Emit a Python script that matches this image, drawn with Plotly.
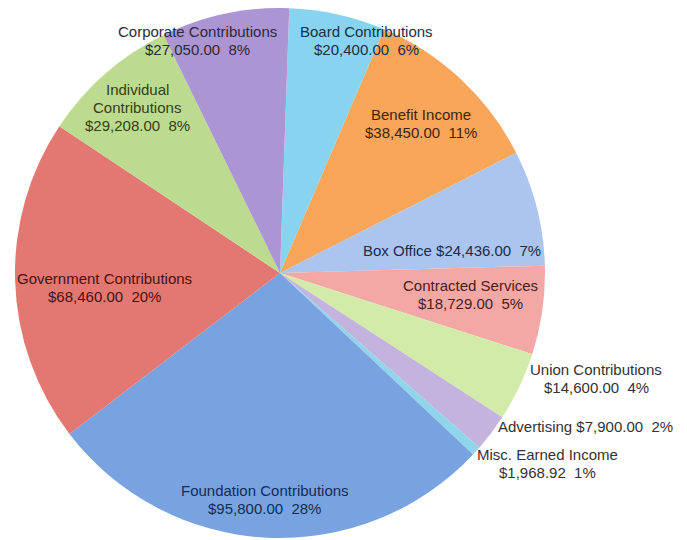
import math
import plotly.graph_objects as go

# ---- data ----
categories = ["Board Contributions", "Benefit Income", "Box Office", "Contracted Services",
              "Union Contributions", "Advertising", "Misc. Earned Income",
              "Foundation Contributions", "Government Contributions",
              "Individual Contributions", "Corporate Contributions"]
values = [20400.00, 38450.00, 24436.00, 18729.00, 14600.00, 7900.00, 1968.92,
          95800.00, 68460.00, 29208.00, 27050.00]

# ---- styles ----
slice_colors = ["#88d3f0", "#f9a65a", "#abc5ee", "#f4a8a6", "#d3eba8", "#c3b3de",
                "#8fd6ea", "#78a3e0", "#e27871", "#bcdb8e", "#ab95d2"]
text_colors = ["#1b2f45", "#3f2410", "#1b2b4c", "#4a1c1c", "#333333", "#333333",
               "#333333", "#132c55", "#4a1212", "#33401c", "#2c2a3c"]
# 0: single line, 1: name / value, 2: each name word on its own line
wrap_mode = [1, 1, 0, 1, 1, 0, 1, 1, 1, 2, 1]
label_radius = [0.93, 0.77, 0.65, 0.72, 1.25, 1.28, 1.23, 0.85, 0.66, 0.82, 0.925]
label_dangle = [7.7, 0.3, 6.7, -1.6, -6.9, -10.4, -6.7, 0.9, -2.7, 0.5, -7.6]

W, H = 687, 540
OFF = 8          # page body margin in the browser
FW, FH = W - OFF, H - OFF
rotation = 2
# pie box in page pixels: x 13..547, y 4..538
dom_x = [(13 - OFF) / FW, (547 - OFF) / FW]
dom_y = [1 - (538 - OFF) / FH, 1 - max(4 - OFF, 0) / FH]
FONT = "Liberation Sans, Arial, sans-serif"
FS = 15
LINE = 18

fig = go.Figure(go.Pie(
    labels=categories, values=values, sort=False, direction="clockwise",
    rotation=rotation, textinfo="none", hoverinfo="label+value+percent",
    marker=dict(colors=slice_colors, line=dict(width=0)),
    domain=dict(x=dom_x, y=dom_y), showlegend=False,
))

# geometry of pie in figure pixels
cx = (dom_x[0] + dom_x[1]) / 2 * FW
cy = (1 - (dom_y[0] + dom_y[1]) / 2) * FH
R_LABEL = 267

total = sum(values)
ann = []
cum = 0.0
for i, (name, v) in enumerate(zip(categories, values)):
    start = rotation + cum / total * 360
    cum += v
    end = rotation + cum / total * 360
    mid = (start + end) / 2 + label_dangle[i]
    a = math.radians(mid)
    px = cx + label_radius[i] * R_LABEL * math.sin(a)
    py = cy - label_radius[i] * R_LABEL * math.cos(a)
    val = f"${v:,.2f}  {round(v / total * 100)}%"
    if wrap_mode[i] == 0:
        lines = [f"{name} {val}"]
    elif wrap_mode[i] == 1:
        lines = [name, val]
    else:
        lines = name.split(" ") + [val]
    n = len(lines)
    for j, ln in enumerate(lines):
        ann.append(dict(
            x=px / FW, y=1 - py / FH, xref="paper", yref="paper",
            text=ln, showarrow=False, xanchor="center", yanchor="middle",
            yshift=((n - 1) / 2 - j) * LINE,
            font=dict(family=FONT, size=FS, color=text_colors[i]),
        ))

fig.update_layout(
    width=FW, height=FH, margin=dict(l=0, r=0, t=0, b=0),
    paper_bgcolor="white", plot_bgcolor="white",
    annotations=ann,
)
fig.write_html("out.html")
